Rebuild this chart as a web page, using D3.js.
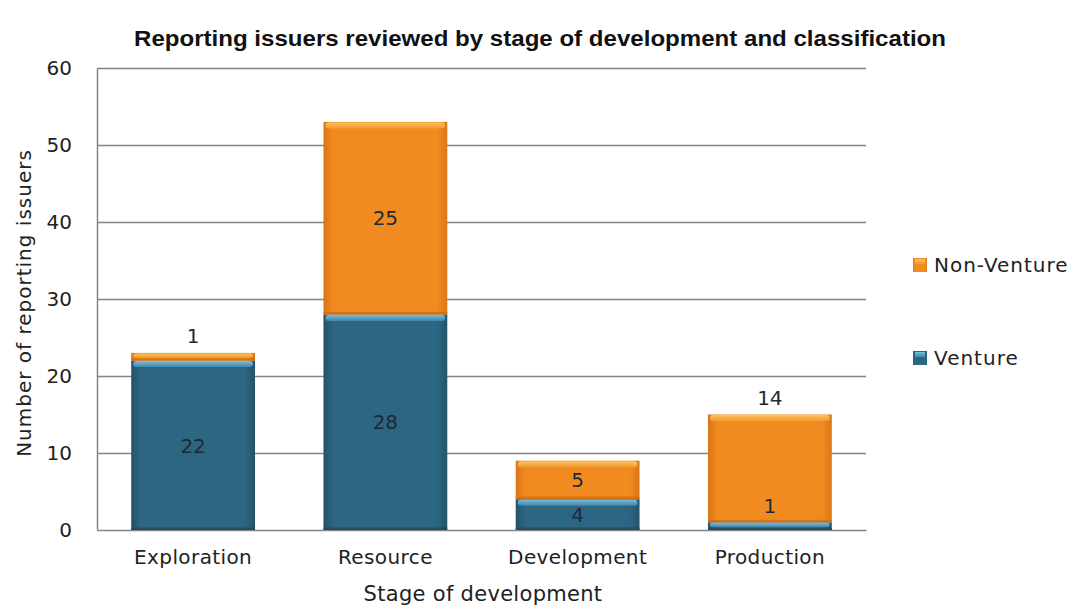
<!DOCTYPE html>
<html>
<head>
<meta charset="utf-8">
<script src="https://cdn.jsdelivr.net/npm/d3@7"></script>
<style>
  html, body { margin: 0; padding: 0; background: #fff; }
  svg { display: block; }
  text { font-family: "DejaVu Sans", Verdana, sans-serif; fill: #222; }
</style>
</head>
<body>
<svg id="chart" width="1077" height="610"></svg>
<script>
const categories = ["Exploration", "Resource", "Development", "Production"];
const ventureValues = [22, 28, 4, 1];
const nonVentureValues = [1, 25, 5, 14];
const ventureLabelPos = ["center", "center", "center", "above"];
const nonVentureLabelPos = ["above", "center", "center", "above"];
const yTicks = [0, 10, 20, 30, 40, 50, 60];
const seriesNames = ["Venture", "Non-Venture"];
const titleText = "Reporting issuers reviewed by stage of development and classification";
const xTitle = "Stage of development";
const yTitle = "Number of reporting issuers";

const svg = d3.select("#chart");
const margin = { left: 97, right: 866, top: 68, bottom: 530 };

const x = d3.scaleBand().domain(categories).range([margin.left, margin.right])
  .paddingInner(0.356).paddingOuter(0.178);
const y = d3.scaleLinear().domain([0, 60]).range([margin.bottom, margin.top]);

// gradients
const defs = svg.append("defs");
const palettes = {
  "Venture": { main: "#2d6682", edge: "#22546b", hi1: "#79bde0", hi2: "#3f86a8", bottom: "#1f4a5f" },
  "Non-Venture": { main: "#f28b1f", edge: "#d97616", hi1: "#fbc25f", hi2: "#f39a30", bottom: "#c96e17" }
};
Object.entries(palettes).forEach(([name, p]) => {
  const id = name.replace(/[^a-z]/gi, "");
  const g = defs.append("linearGradient").attr("id", "h" + id).attr("x1", 0).attr("x2", 1).attr("y1", 0).attr("y2", 0);
  g.append("stop").attr("offset", "0%").attr("stop-color", p.edge);
  g.append("stop").attr("offset", "8%").attr("stop-color", p.main);
  g.append("stop").attr("offset", "92%").attr("stop-color", p.main);
  g.append("stop").attr("offset", "100%").attr("stop-color", p.edge);
  const v = defs.append("linearGradient").attr("id", "v" + id).attr("x1", 0).attr("x2", 0).attr("y1", 0).attr("y2", 1);
  v.append("stop").attr("offset", "0%").attr("stop-color", p.hi1);
  v.append("stop").attr("offset", "100%").attr("stop-color", p.hi2);
});

// title
const title = svg.append("text").attr("x", 540).attr("y", 46).attr("text-anchor", "middle")
  .style("font-family", "'Liberation Sans Narrow', 'Arial Narrow', 'Liberation Sans', sans-serif")
  .style("font-weight", "bold").style("font-size", "22px").style("fill", "#111")
  .text(titleText);
title.attr("textLength", 812).attr("lengthAdjust", "spacingAndGlyphs");

// gridlines
svg.append("g").selectAll("line").data(yTicks.filter(d => d > 0)).join("line")
  .attr("x1", margin.left).attr("x2", margin.right)
  .attr("y1", d => Math.round(y(d)) + 0.5).attr("y2", d => Math.round(y(d)) + 0.5)
  .attr("stroke", "#858585").attr("stroke-width", 1.3);

// y axis
const yAxis = svg.append("g").attr("transform", `translate(${margin.left},0)`)
  .call(d3.axisLeft(y).tickValues(yTicks).tickSize(0).tickPadding(25));
yAxis.select(".domain").attr("stroke", "#858585").attr("stroke-width", 1.5);
yAxis.selectAll("text").style("font-size", "20px").style("font-family", "'DejaVu Sans', sans-serif").attr("fill", "#222");

// x axis
const xAxis = svg.append("g").attr("transform", `translate(0,${margin.bottom})`)
  .call(d3.axisBottom(x).tickSize(0).tickPadding(20));
xAxis.select(".domain").attr("stroke", "#858585").attr("stroke-width", 1.5);
xAxis.selectAll("text").style("font-size", "20px").style("letter-spacing", "0.4px")
  .style("font-family", "'DejaVu Sans', sans-serif").attr("fill", "#222");

// stacked data
const rows = categories.map((c, i) => ({ cat: c, "Venture": ventureValues[i], "Non-Venture": nonVentureValues[i] }));
const stack = d3.stack().keys(seriesNames)(rows);
const labelPos = { "Venture": ventureLabelPos, "Non-Venture": nonVentureLabelPos };

const bars = svg.append("g");
stack.forEach(layer => {
  const key = layer.key;
  const p = palettes[key];
  const id = key.replace(/[^a-z]/gi, "");
  layer.forEach((d, i) => {
    const x0 = x(d.data.cat), w = x.bandwidth();
    const yTop = y(d[1]), yBot = y(d[0]);
    const h = yBot - yTop;
    if (h <= 0) return;
    const g = bars.append("g");
    g.append("rect").attr("x", x0).attr("y", yTop).attr("width", w).attr("height", h)
      .attr("fill", `url(#h${id})`);
    const hh = Math.min(6, h * 0.55);
    g.append("rect").attr("x", x0 + 2).attr("y", yTop + 0.5).attr("width", w - 4).attr("height", hh)
      .attr("rx", Math.min(4, hh / 2)).attr("fill", `url(#v${id})`);
    const bh = Math.min(2.5, h * 0.25);
    g.append("rect").attr("x", x0).attr("y", yBot - bh).attr("width", w).attr("height", bh)
      .attr("fill", p.bottom).attr("opacity", 0.8);
    // label
    const pos = labelPos[key][i];
    const ly = pos === "center" ? (yTop + yBot) / 2 : yTop - 17;
    svg.append("text").attr("x", x0 + w / 2).attr("y", ly).attr("dy", "0.36em")
      .attr("text-anchor", "middle").style("font-size", "20px").style("fill", "#1c2a38")
      .text(d.data[key]);
  });
});

// axis titles
svg.append("text").attr("x", 483).attr("y", 601).attr("text-anchor", "middle")
  .style("font-size", "21px").style("letter-spacing", "0.3px").text(xTitle);
svg.append("text").attr("transform", "translate(31,303) rotate(-90)").attr("text-anchor", "middle")
  .style("font-size", "20px").style("letter-spacing", "1px").text(yTitle);

// legend
const legendItems = [
  { name: "Non-Venture", y: 265 },
  { name: "Venture", y: 358 }
];
const lg = svg.append("g");
legendItems.forEach(it => {
  const id = it.name.replace(/[^a-z]/gi, "");
  lg.append("rect").attr("x", 913).attr("y", it.y - 7).attr("width", 14).attr("height", 14)
    .attr("fill", `url(#h${id})`);
  lg.append("rect").attr("x", 915).attr("y", it.y - 6).attr("width", 10).attr("height", 5)
    .attr("fill", `url(#v${id})`);
  lg.append("text").attr("x", 934).attr("y", it.y).attr("dy", "0.36em")
    .style("font-size", "20px").style("letter-spacing", "1px").text(it.name);
});
</script>
</body>
</html>
